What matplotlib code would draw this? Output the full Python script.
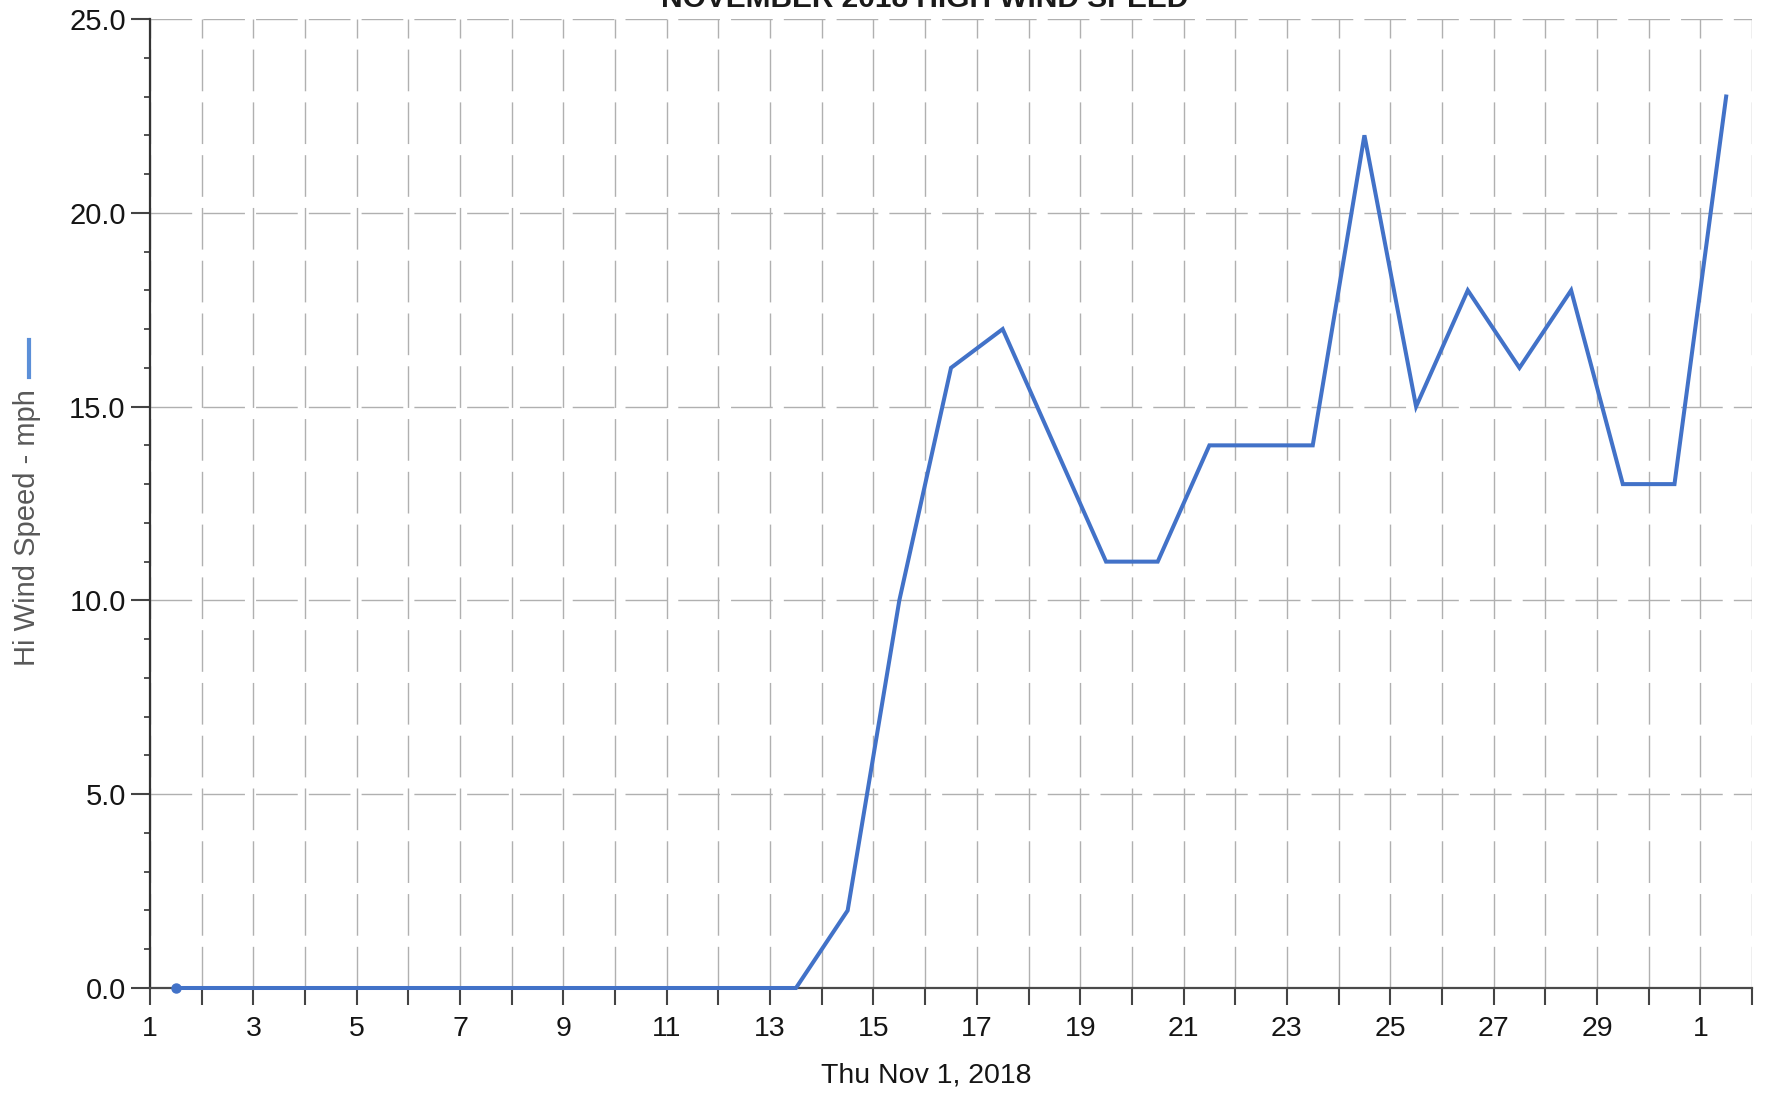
import matplotlib
matplotlib.use("Agg")
import matplotlib.pyplot as plt
from matplotlib.lines import Line2D
from matplotlib.ticker import MultipleLocator

plt.rcParams['font.family'] = ['Liberation Sans', 'DejaVu Sans']

# ---- data ----
days = [1, 2, 3, 4, 5, 6, 7, 8, 9, 10, 11, 12, 13, 14, 15, 16, 17, 18, 19, 20,
        21, 22, 23, 24, 25, 26, 27, 28, 29, 30, 31]          # Nov 1 .. Dec 1
hi_wind_mph = [0, 0, 0, 0, 0, 0, 0, 0, 0, 0, 0, 0, 0, 2, 10, 16, 17, 14, 11, 11,
               14, 14, 14, 22, 15, 18, 16, 18, 13, 13, 23]
tick_days = list(range(1, 33))
tick_labels = ['1', '', '3', '', '5', '', '7', '', '9', '', '11', '', '13', '', '15', '',
               '17', '', '19', '', '21', '', '23', '', '25', '', '27', '', '29', '', '1', '']
y_ticks = [0, 5, 10, 15, 20, 25]
y_tick_labels = ['0.0', '5.0', '10.0', '15.0', '20.0', '25.0']

title = 'NOVEMBER 2018 HIGH WIND SPEED'
x_label = 'Thu Nov 1, 2018'
y_label = 'Hi Wind Speed - mph'

W, H = 1767, 1093
BLUE = '#4272c8'

fig = plt.figure(figsize=(W / 100, H / 100), dpi=100)
ax = fig.add_axes([150 / W, 105 / H, (1752 - 150) / W, (988 - 19) / H])

x_pos = [d + 0.5 for d in days]
ax.plot(x_pos, hi_wind_mph, color=BLUE, linewidth=2.9, clip_on=False, zorder=5,
        solid_joinstyle='miter')
ax.plot(x_pos[:1], hi_wind_mph[:1], 'o', color=BLUE, markersize=6.5, clip_on=False, zorder=6)

ax.set_xlim(1, 32)
ax.set_ylim(0, 25)
ax.set_xticks(tick_days)
ax.set_xticklabels(tick_labels)
ax.set_yticks(y_ticks)
ax.set_yticklabels(y_tick_labels)
ax.yaxis.set_minor_locator(MultipleLocator(1))

ax.grid(True, which='major', axis='both', color='#b0b0b0',
        linestyle=(0, (30, 8)), linewidth=1.0, zorder=0)

for s in ('top', 'right'):
    ax.spines[s].set_visible(False)
ax.spines['left'].set_color('#333333')
ax.spines['left'].set_linewidth(1.6)
ax.spines['bottom'].set_color('#4a4a4a')
ax.spines['bottom'].set_linewidth(1.6)

ax.tick_params(axis='x', which='major', direction='out', length=12.5, width=1.5,
               color='#444444', pad=8, labelsize=20.5, labelcolor='#151515')
ax.tick_params(axis='y', which='major', direction='out', length=13.5, width=1.5,
               color='#444444', pad=4, labelsize=21, labelcolor='#151515')
ax.tick_params(axis='y', which='minor', direction='out', length=4.5, width=1.3,
               color='#444444')

fig.text(925 / W, 1 - 7 / H, title, ha='center', va='baseline',
         fontsize=21.5, fontweight='bold', color='#1a1a1a')
fig.text(926 / W, 1 - 1082 / H, x_label, ha='center', va='baseline',
         fontsize=20.5, color='#151515')
fig.text(27 / W, 1 - 528 / H, y_label, ha='center', va='center', rotation=90,
         fontsize=21, color='#595959')
fig.add_artist(Line2D([29 / W, 29 / W], [1 - 340 / H, 1 - 377 / H],
                      transform=fig.transFigure, color='#5b8fd8', linewidth=3))

fig.savefig('out.png', dpi=100)
